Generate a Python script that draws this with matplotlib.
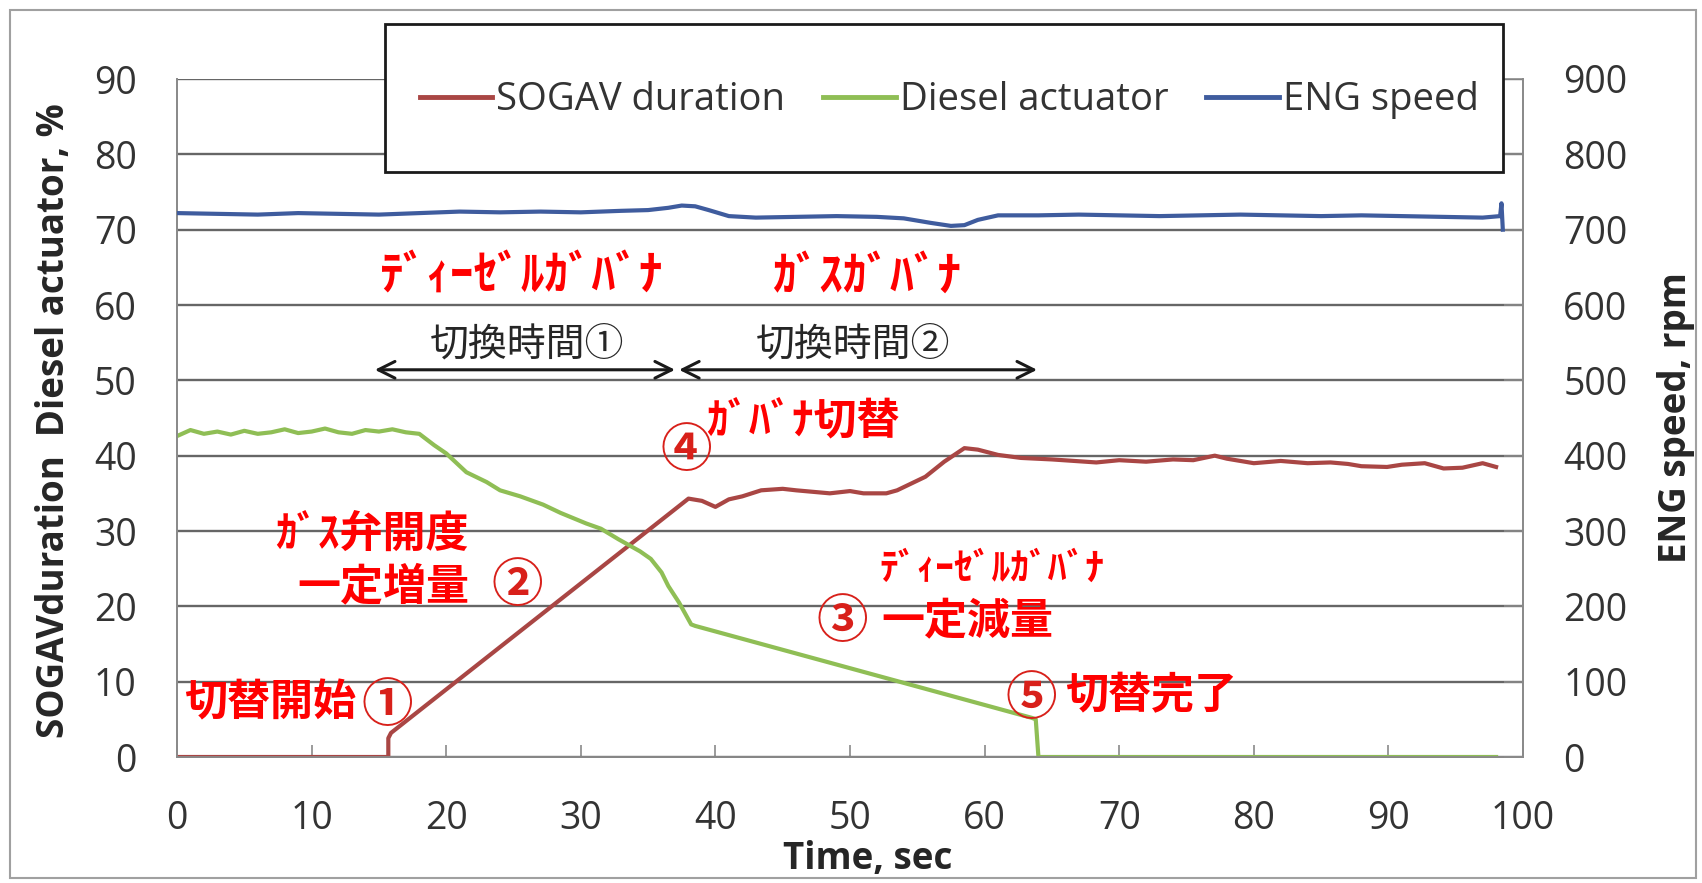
import matplotlib
matplotlib.use('Agg')
import matplotlib.pyplot as plt
from matplotlib.patches import Rectangle
from matplotlib.lines import Line2D

plt.rcParams['font.family'] = ['Open Sans', 'Noto Sans CJK JP', 'DejaVu Sans']

# SOGAV duration, %
sogav_t = [0, 15.7, 15.7, 15.9, 38.0, 39.0, 40.0, 41, 42, 43.4, 45, 46, 48.5, 50, 51,
           52.7, 53.5, 55.6, 57, 58.5, 59.5, 61, 62.7, 65, 68.3, 70, 72, 74, 75.5, 77.1,
           78, 80, 82, 84, 85.7, 87, 88, 89.9, 91, 92.7, 94.1, 95.5, 97, 98]
sogav_v = [0, 0, 2.5, 3.2, 34.3, 34.0, 33.2, 34.2, 34.6, 35.4, 35.6, 35.4, 35.0, 35.3, 35.0,
           35.0, 35.4, 37.2, 39.2, 41.0, 40.8, 40.1, 39.7, 39.5, 39.1, 39.4, 39.2, 39.5, 39.4, 40.0,
           39.6, 39.0, 39.3, 39.0, 39.1, 38.9, 38.6, 38.5, 38.8, 39.0, 38.3, 38.4, 39.0, 38.5]

# Diesel actuator, %
diesel_t = [0, 1, 2, 3, 4, 5, 6, 7, 8, 9, 10, 11, 12, 13, 14, 15, 16, 17, 18, 19.1,
            20, 21.5, 23, 24, 25.5, 27.2, 28.5, 30.4, 31.5, 32.8, 34.4, 35.2, 36.0, 36.5,
            37.3, 38.2, 38.5, 63.5, 63.8, 64.0, 98]
diesel_v = [42.6, 43.4, 42.9, 43.2, 42.8, 43.3, 42.9, 43.1, 43.5, 43.0, 43.2, 43.6, 43.1,
            42.9, 43.4, 43.2, 43.5, 43.1, 42.9, 41.4, 40.3, 37.8, 36.5, 35.4, 34.6, 33.5,
            32.4, 31.0, 30.3, 28.9, 27.3, 26.3, 24.5, 22.7, 20.5, 17.6, 17.4, 5.2, 5.0, 0, 0]

# ENG speed, rpm
eng_t = [0, 3, 6, 9, 12, 15, 18, 21, 24, 27, 30, 33, 35, 36.5, 37.5, 38.5, 39.5, 41, 43,
         46, 49, 52, 54, 56, 57.5, 58.5, 59.5, 61, 64, 67, 70, 73, 76, 79, 82, 85, 88,
         91, 94, 97, 98.3, 98.4, 98.5]
eng_v = [722, 721, 720, 722, 721, 720, 722, 724, 723, 724, 723, 725, 726, 729, 732, 731,
         726, 718, 716, 717, 718, 717, 715, 709, 705, 706, 713, 719, 719, 720, 719, 718,
         719, 720, 719, 718, 719, 718, 717, 716, 718, 735, 700]

labels = ['SOGAV duration', 'Diesel actuator', 'ENG speed']
colors = ['#A94644', '#8FBE55', '#3F5C9E']

W, H = 1702, 883
fig = plt.figure(figsize=(W / 100, H / 100), dpi=100, facecolor='white')
L, R, T, B = 177, 1523, 79, 757
ax = fig.add_axes([L / W, 1 - B / H, (R - L) / W, (B - T) / H])
ax2 = ax.twinx()

ax.plot(sogav_t, sogav_v, color=colors[0], lw=3, zorder=3)
ax.plot(diesel_t, diesel_v, color=colors[1], lw=3, zorder=3)
ax2.plot(eng_t, eng_v, color=colors[2], lw=3, zorder=3)

ax.set_xlim(0, 100)
ax.set_ylim(0, 90)
ax2.set_ylim(0, 900)
ax.set_xticks(range(0, 101, 10))
ax.set_yticks(range(0, 91, 10))
ax2.set_yticks(range(0, 901, 100))
ax.yaxis.grid(True, color='#666666', lw=1.7)
ax.set_axisbelow(True)

for a in (ax, ax2):
    for s in a.spines.values():
        s.set_color('#8a8a8a')
        s.set_linewidth(1.3)
    a.spines['top'].set_visible(False)
ax.spines['bottom'].set_color('#666666')

ax.tick_params(axis='y', length=0, pad=29, labelsize=27, labelcolor='#333333')
ax.tick_params(axis='x', direction='in', length=9, width=1.2, color='#8a8a8a',
               pad=31, labelsize=27, labelcolor='#333333')
ax2.tick_params(axis='y', direction='in', length=14, width=1.2, color='#8a8a8a',
                pad=29, labelsize=27, labelcolor='#333333')

lab = dict(fontsize=26.5, fontweight='bold', color='#262626', va='center', ha='center')
ax.set_ylabel('SOGAVduration  Diesel actuator, %', **lab)
ax.yaxis.set_label_coords(-0.0914, 0.496)
ax2.set_ylabel('ENG speed, rpm', rotation=90, **lab)
ax2.yaxis.set_label_coords(1.114, 0.50)
ax.set_xlabel('Time, sec', **lab)
ax.xaxis.set_label_coords(0.513, -0.150)

# legend box
x0, y0, x1, y1 = 385, 24, 1503, 172
fig.patches.append(Rectangle((x0 / W, 1 - y1 / H), (x1 - x0) / W, (y1 - y0) / H,
                             transform=fig.transFigure, facecolor='white',
                             edgecolor='#1a1a1a', lw=2, zorder=4))
handles = [Line2D([], [], color=c, lw=3.5) for c in colors]
fig.legend(handles, labels, loc='center', ncol=3, frameon=False,
           bbox_to_anchor=((x0 + x1) / 2 / W + 0.003, 1 - 100 / H),
           fontsize=27.5, handlelength=1.9, handletextpad=0.1, columnspacing=1.0,
           labelcolor='#333333').set_zorder(5)

# chart area border
fig.patches.append(Rectangle((10 / W, 5 / H), (W - 16) / W, (H - 15) / H,
                             transform=fig.transFigure, fill=False,
                             edgecolor='#a0a0a0', lw=1.5, zorder=0))

jp = ['Noto Sans CJK JP', 'DejaVu Sans']
red = '#FF0000'
notes = [
    ('ﾃﾞｨｰｾﾞﾙｶﾞﾊﾞﾅ', 25.6, 63.8, 'center', red, 34),
    ('ｶﾞｽｶﾞﾊﾞﾅ', 51.2, 63.8, 'center', red, 34),
    ('ｶﾞﾊﾞﾅ切替', 39.3, 44.6, 'left', red, 31),
    ('ｶﾞｽ弁開度', 21.7, 29.6, 'right', red, 31),
    ('一定増量', 21.7, 22.7, 'right', red, 31),
    ('切替開始', 13.3, 7.2, 'right', red, 31),
    ('ﾃﾞｨｰｾﾞﾙｶﾞﾊﾞﾅ', 52.2, 25.0, 'left', red, 27),
    ('一定減量', 52.3, 18.0, 'left', red, 31),
    ('切替完了', 66.0, 8.2, 'left', red, 31),
    ('切換時間①', 26.0, 54.7, 'center', '#262626', 28),
    ('切換時間②', 50.2, 54.7, 'center', '#262626', 28),
]
for s, x, y, ha, c, fs in notes:
    w = 'normal' if c != red else 'bold'
    ax.text(x, y, s, ha=ha, va='center', color=c, fontsize=fs, family=jp,
            fontweight=w, zorder=6)

circles = [('①', 15.6, 6.8), ('②', 25.3, 22.7), ('③', 49.4, 18.0),
           ('④', 37.8, 40.7), ('⑤', 63.5, 7.8)]
for s, x, y in circles:
    ax.text(x, y, s, ha='center', va='center', color='#D8201A', fontsize=37,
            family=jp, fontweight='bold', zorder=6)

for xa, xb in [(14.7, 37.0), (37.3, 63.9)]:
    ax.annotate('', xy=(xb, 51.4), xytext=(xa, 51.4),
                arrowprops=dict(arrowstyle='<->', color='#1a1a1a', lw=2.2,
                                mutation_scale=30, shrinkA=0, shrinkB=0), zorder=6)

fig.savefig('out.png', dpi=100, facecolor='white')
